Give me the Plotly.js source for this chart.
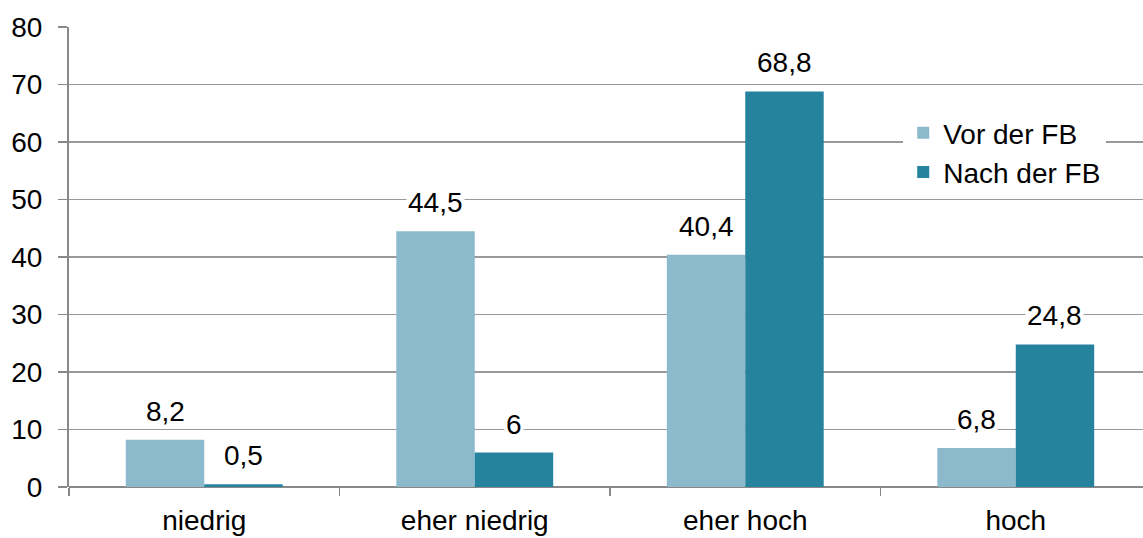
<!DOCTYPE html>
<html>
<head>
<meta charset="utf-8">
<script src="https://cdn.plot.ly/plotly-3.0.1.min.js"></script>
<style>
html,body{margin:0;padding:0;background:#fff;overflow:hidden;}
#chart{width:1151px;height:538px;}
</style>
</head>
<body>
<div id="chart"></div>
<script>
const categories = ["niedrig", "eher niedrig", "eher hoch", "hoch"];
const vorValues = [8.2, 44.5, 40.4, 6.8];
const nachValues = [0.5, 6, 68.8, 24.8];
const seriesNames = ["Vor der FB", "Nach der FB"];
const yTicks = [0, 10, 20, 30, 40, 50, 60, 70, 80];

const fmt = v => String(v).replace('.', ',');
const FONT = "Liberation Sans, Arial, sans-serif";
const FS = 28;

const traces = [
  {type: 'bar', name: seriesNames[0], x: categories, y: vorValues,
   marker: {color: '#8cb9cb'}, hoverinfo: 'none'},
  {type: 'bar', name: seriesNames[1], x: categories, y: nachValues,
   marker: {color: '#25839e'}, hoverinfo: 'none'}
];

const annotations = [];
[vorValues, nachValues].forEach((vals, si) => {
  vals.forEach((v, i) => {
    annotations.push({
      x: i + (si === 0 ? -0.145 : 0.145), y: v, xref: 'x', yref: 'y',
      text: fmt(v), showarrow: false, yanchor: 'bottom', yshift: 11,
      bgcolor: '#ffffff', borderpad: 1,
      font: {family: FONT, size: FS, color: '#000'}
    });
  });
});

const layout = {
  width: 1151, height: 538,
  margin: {l: 69, r: 0, t: 27, b: 51},
  paper_bgcolor: '#fff', plot_bgcolor: '#fff',
  barmode: 'group', bargap: 0.42, bargroupgap: 0,
  font: {family: FONT, size: FS, color: '#000'},
  showlegend: true,
  legend: {x: 0.771, y: 0.824, xanchor: 'left', yanchor: 'top',
    bgcolor: '#ffffff', font: {family: FONT, size: FS, color: '#000'},
    itemwidth: 30, tracegroupgap: 0},
  xaxis: {type: 'category', tickson: 'boundaries', ticks: 'outside', ticklen: 8,
    tickcolor: '#888', tickwidth: 1.5, showgrid: false, showline: false,
    zeroline: false, ticklabelstandoff: 14,
    tickfont: {family: FONT, size: FS, color: '#000'}},
  yaxis: {range: [0, 80], tickvals: yTicks, ticktext: yTicks.map(String),
    ticks: 'outside', ticklen: 9, tickcolor: '#888', tickwidth: 1.5,
    showline: true, linecolor: '#888', linewidth: 2,
    showgrid: true, gridcolor: '#999', gridwidth: 1.5,
    zeroline: true, zerolinecolor: '#888', zerolinewidth: 1.5,
    ticklabelstandoff: 10,
    tickfont: {family: FONT, size: FS, color: '#000'}},
  annotations: annotations
};

Plotly.newPlot('chart', traces, layout, {displayModeBar: false, staticPlot: true});
</script>
</body>
</html>
